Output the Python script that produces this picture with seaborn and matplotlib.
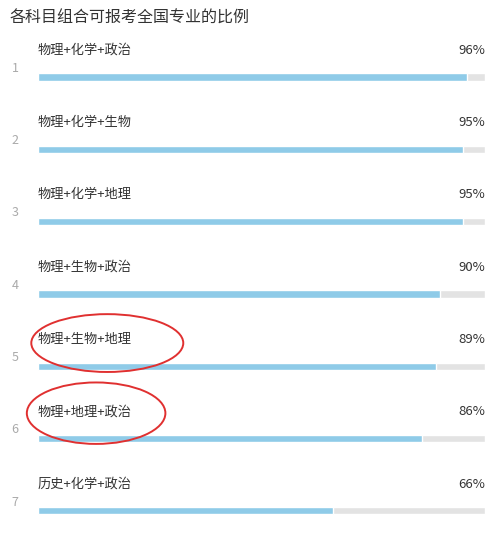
import matplotlib
matplotlib.use("Agg")
import matplotlib.pyplot as plt
import seaborn as sns
import pandas as pd
from matplotlib.patches import Ellipse

title = "各科目组合可报考全国专业的比例"
combos = ["物理+化学+政治", "物理+化学+生物", "物理+化学+地理", "物理+生物+政治",
          "物理+生物+地理", "物理+地理+政治", "历史+化学+政治"]
values = [96, 95, 95, 90, 89, 86, 66]

sns.set_theme(style="white")
plt.rcParams['font.family'] = ['Noto Sans CJK SC', 'DejaVu Sans']

df = pd.DataFrame({"combo": combos, "value": values, "full": [100]*len(values)})

fig = plt.figure(figsize=(4.96, 5.4), dpi=100)
ax = fig.add_axes([38/496, 0, 447/496, 1])
sns.barplot(data=df, y="combo", x="full", orient="h", color="#e3e3e3", width=0.1, ax=ax, saturation=1)
sns.barplot(data=df, y="combo", x="value", orient="h", color="#8fcbe8", width=0.1, ax=ax, saturation=1)
ax.set_xlim(0, 100)
ax.set_ylim(6.404, -1.065)
ax.axis("off")

for i, (c, v) in enumerate(zip(combos, values)):
    ax.text(0, i - 0.37, c, fontsize=9.5, color="#333333", va="center", ha="left")
    ax.text(100, i - 0.37, f"{v}%", fontsize=9.5, color="#333333", va="center", ha="right")
    ax.text(-5.1, i - 0.12, str(i + 1), fontsize=9, color="#aaaaaa", va="center", ha="center", clip_on=False)

fig.text(10/496, 1 - 18/540, title, fontsize=11.5, color="#333333", va="center", ha="left")

ax.add_patch(Ellipse((15.5, 3.68), 34, 0.8, fill=False, ec="#e03030", lw=1.4, clip_on=False))
ax.add_patch(Ellipse((13, 4.65), 31, 0.85, fill=False, ec="#e03030", lw=1.4, clip_on=False))

fig.savefig("out.png", dpi=100)
